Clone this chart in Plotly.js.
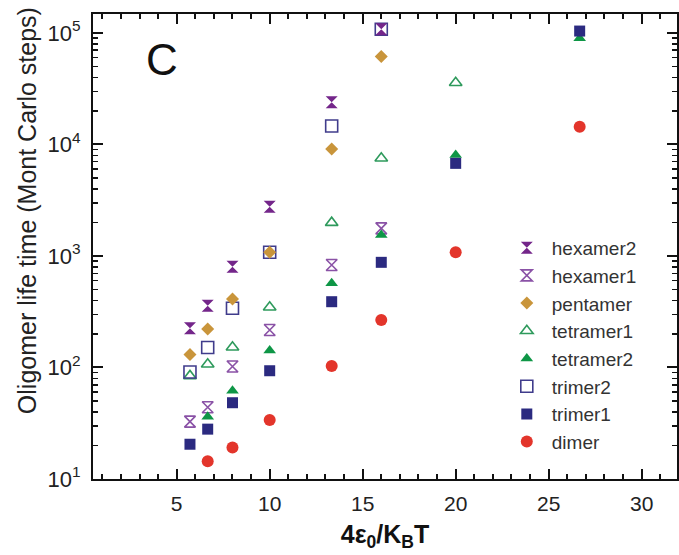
<!DOCTYPE html>
<html><head><meta charset="utf-8">
<script src="https://cdn.plot.ly/plotly-3.0.1.min.js"></script>
<style>body{margin:0;background:#fff}</style></head>
<body><div id="chart" style="width:679px;height:555px"></div>
<script>
// Data (x = 4*eps0/kBT, y = lifetime in MC steps)
const hexamer2X = [5.714, 6.667, 8, 10, 13.333, 16];
const hexamer2Y = [225, 358, 802, 2770, 23900, 108000];
const hexamer1X = [5.714, 6.667, 8, 10, 13.333, 16];
const hexamer1Y = [32.7, 44, 102, 217, 830, 1770];
const pentamerX = [5.714, 6.667, 8, 10, 13.333, 16];
const pentamerY = [131, 221, 411, 1080, 9120, 61400];
const tetramer1X = [5.714, 6.667, 8, 10, 13.333, 16, 20];
const tetramer1Y = [84, 107, 152, 347, 1990, 7520, 35800];
const tetramer2X = [6.667, 8, 10, 13.333, 16, 20, 26.667];
const tetramer2Y = [36.2, 62, 142, 569, 1540, 8050, 89500];
const trimer2X = [5.714, 6.667, 8, 10, 13.333, 16];
const trimer2Y = [91, 151, 340, 1080, 14650, 108000];
const trimer1X = [5.714, 6.667, 8, 10, 13.333, 16, 20, 26.667];
const trimer1Y = [20.5, 28, 48.3, 93.5, 389, 877, 6770, 104000];
const dimerX = [6.667, 8, 10, 13.333, 16, 20, 26.667];
const dimerY = [14.4, 19.2, 33.8, 103, 267, 1080, 14450];

const xTickVals = [5, 10, 15, 20, 25, 30];
const yTickVals = [10, 100, 1000, 10000, 100000];
const yTickText = ['10<sup>1</sup>', '10<sup>2</sup>', '10<sup>3</sup>', '10<sup>4</sup>', '10<sup>5</sup>'];

function tr(name, xs, ys, symbol, color, size, rank, open) {
  return {
    type: 'scatter', mode: 'markers', name: name, x: xs, y: ys,
    legendrank: rank,
    marker: {symbol: symbol, size: size, color: color,
             line: {color: color, width: open ? 1.6 : 0}}
  };
}

const data = [
  tr('hexamer1', hexamer1X, hexamer1Y, 'hourglass-open', '#8a52a6', 11, 2, true),
  tr('tetramer1', tetramer1X, tetramer1Y, 'triangle-up-open', '#2e9a5c', 11, 4, true),
  tr('trimer2', trimer2X, trimer2Y, 'square-open', '#403c8c', 12, 6, true),
  tr('pentamer', pentamerX, pentamerY, 'diamond', '#c9953b', 10, 3, false),
  tr('hexamer2', hexamer2X, hexamer2Y, 'hourglass', '#74268a', 12, 1, false),
  tr('tetramer2', tetramer2X, tetramer2Y, 'triangle-up', '#0e9646', 11, 5, false),
  tr('trimer1', trimer1X, trimer1Y, 'square', '#2b2a80', 11, 7, false),
  tr('dimer', dimerX, dimerY, 'circle', '#e3352b', 12, 8, false)
];

const fontFam = 'Liberation Sans, Arial, sans-serif';
const layout = {
  width: 679, height: 555,
  margin: {l: 93, r: 2, t: 14, b: 76},
  paper_bgcolor: '#fff', plot_bgcolor: '#fff',
  font: {family: fontFam, color: '#222'},
  showlegend: true,
  legend: {x: 0.70, xanchor: 'left', y: 0.538, yanchor: 'top',
           font: {size: 19, family: fontFam, color: '#333'},
           bgcolor: 'rgba(0,0,0,0)', itemwidth: 40, tracegroupgap: 0},
  xaxis: {
    range: [0.5, 31.9], showgrid: false, zeroline: false,
    showline: true, linecolor: '#111', linewidth: 2, mirror: 'ticks',
    ticks: 'inside', ticklen: 10, tickwidth: 2, tickcolor: '#111',
    tickmode: 'array', tickvals: xTickVals,
    tickfont: {size: 21, color: '#222'}, ticklabelstandoff: 5,
    minor: {ticks: 'inside', ticklen: 5, tickwidth: 2, tickcolor: '#111', dtick: 1, tick0: 0, showgrid: false},
    title: {text: '<b>4ε<sub>0</sub>/K<sub>B</sub>T</b>', font: {size: 25, color: '#111'}, standoff: 11}
  },
  yaxis: {
    type: 'log', range: [1, 5.17], showgrid: false, zeroline: false,
    showline: true, linecolor: '#111', linewidth: 2, mirror: 'ticks',
    ticks: 'inside', ticklen: 10, tickwidth: 2, tickcolor: '#111',
    tickmode: 'array', tickvals: yTickVals, ticktext: yTickText,
    tickfont: {size: 22, color: '#222'}, ticklabelstandoff: 6,
    minor: {ticks: 'inside', ticklen: 5, tickwidth: 1.5, tickcolor: '#111', dtick: 'D1', showgrid: false},
    title: {text: ''}
  },
  annotations: [
    {text: 'Oligomer life time (Mont Carlo steps)', xref: 'paper', yref: 'paper',
     x: -0.113, y: 0.576, textangle: -90, showarrow: false,
     font: {size: 25, family: fontFam, color: '#222'}, xanchor: 'center', yanchor: 'middle'},
    {text: 'C', xref: 'paper', yref: 'paper', x: 0.119, y: 0.902, showarrow: false,
     font: {size: 44, family: fontFam, color: '#111'}, xanchor: 'center', yanchor: 'middle'}
  ]
};

Plotly.newPlot('chart', data, layout, {displayModeBar: false, staticPlot: true});
</script>
</body></html>
